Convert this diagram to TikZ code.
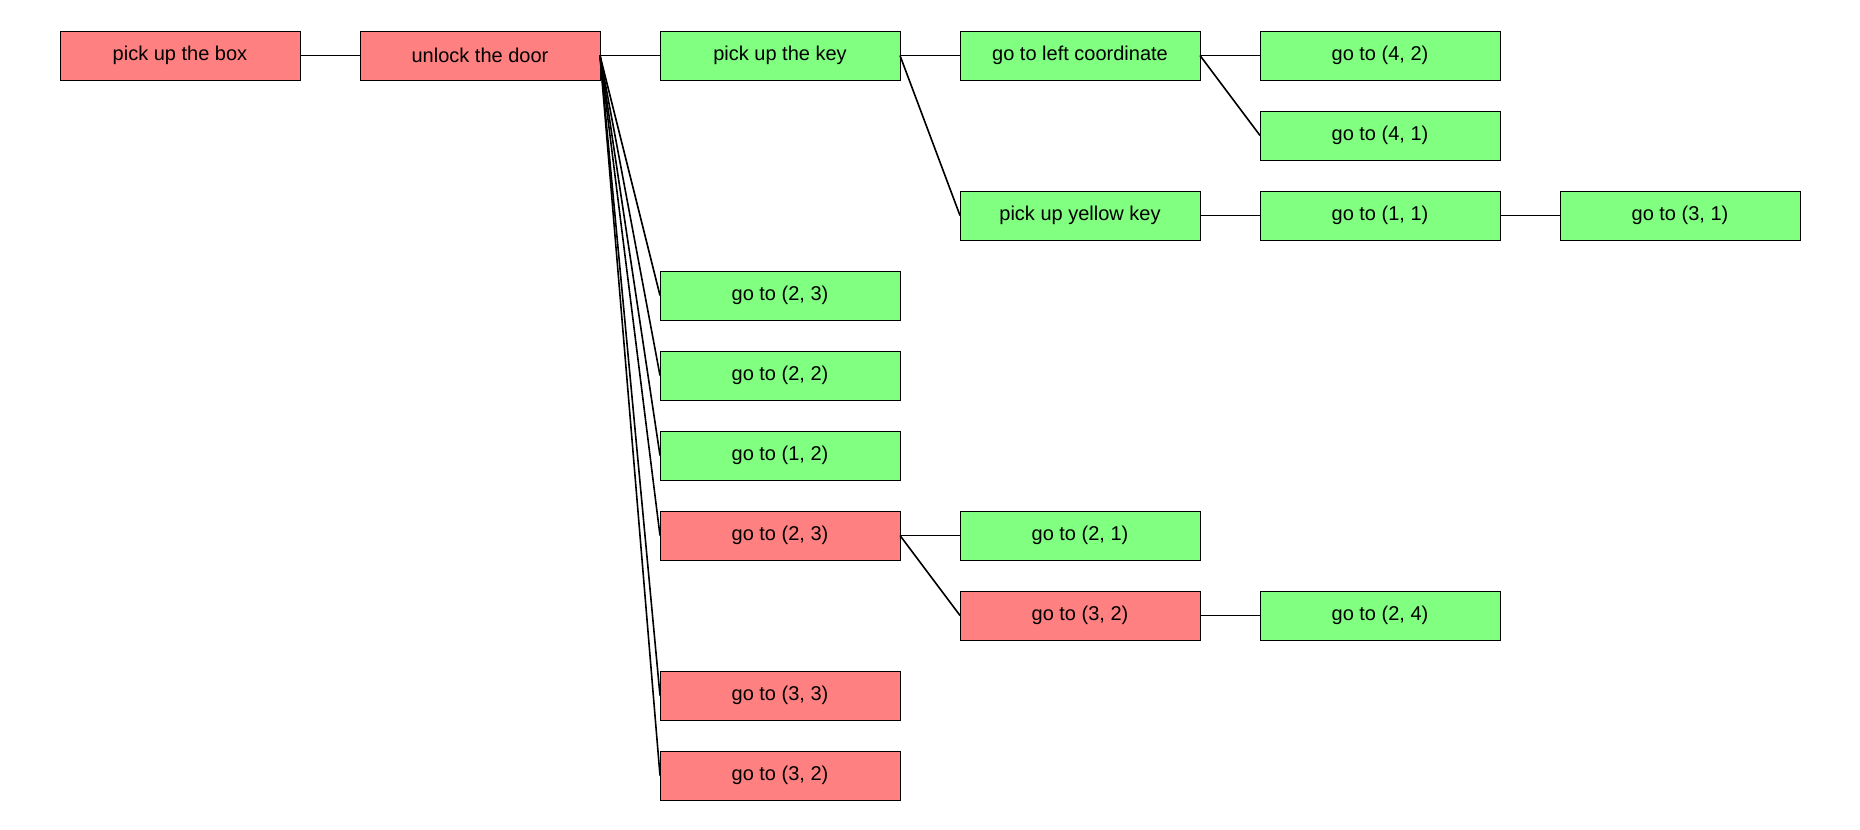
\documentclass[tikz,border=0pt]{standalone}
\usepackage{xcolor}
\usepackage{fontspec}
\setmainfont{Liberation Sans}
\usepackage{tikz}
\usetikzlibrary{positioning}

\definecolor{failred}{RGB}{255,128,128}
\definecolor{okgreen}{RGB}{128,255,128}

\begin{document}
\begin{tikzpicture}[
    node distance=15.5pt and 30pt,
    task/.style={draw, line width=0.5pt, rectangle,
        minimum width=120pt, minimum height=24.5pt,
        inner sep=0pt, outer sep=0pt,
        font=\fontsize{10}{12}\selectfont},
    failbox/.style={task, fill=failred},
    okbox/.style={task, fill=okgreen},
    treeedge/.style={line width=0.8pt, color=black}
]
\useasboundingbox (0,0) rectangle (930pt,-415pt);
% top row
\node[failbox, anchor=north west] (box) at (30pt,-15.5pt) {pick up the box};
\node[failbox, right=of box] (door) {unlock the door};
\node[okbox, right=of door] (key) {pick up the key};
\node[okbox, right=of key] (leftc) {go to left coordinate};
\node[okbox, right=of leftc] (g42) {go to (4, 2)};
\node[okbox, below=of g42] (g41) {go to (4, 1)};
\node[okbox, below=55.5pt of leftc] (yellow) {pick up yellow key};
\node[okbox, right=of yellow] (g11) {go to (1, 1)};
\node[okbox, right=of g11] (g31) {go to (3, 1)};
% children of the door
\node[okbox, below=95.5pt of key] (g23a) {go to (2, 3)};
\node[okbox, below=of g23a] (g22) {go to (2, 2)};
\node[okbox, below=of g22] (g12) {go to (1, 2)};
\node[failbox, below=of g12] (g23b) {go to (2, 3)};
\node[failbox, below=55.5pt of g23b] (g33) {go to (3, 3)};
\node[failbox, below=of g33] (g32a) {go to (3, 2)};
\node[okbox, right=of g23b] (g21) {go to (2, 1)};
\node[failbox, below=of g21] (g32b) {go to (3, 2)};
\node[okbox, right=of g32b] (g24) {go to (2, 4)};

\draw[treeedge] (box.east) -- (door.west);
\draw[treeedge] (door.east) -- (key.west);
\draw[treeedge] (door.east) -- (g23a.west);
\draw[treeedge] (door.east) -- (g22.west);
\draw[treeedge] (door.east) -- (g12.west);
\draw[treeedge] (door.east) -- (g23b.west);
\draw[treeedge] (door.east) -- (g33.west);
\draw[treeedge] (door.east) -- (g32a.west);
\draw[treeedge] (key.east) -- (leftc.west);
\draw[treeedge] (key.east) -- (yellow.west);
\draw[treeedge] (leftc.east) -- (g42.west);
\draw[treeedge] (leftc.east) -- (g41.west);
\draw[treeedge] (yellow.east) -- (g11.west);
\draw[treeedge] (g11.east) -- (g31.west);
\draw[treeedge] (g23b.east) -- (g21.west);
\draw[treeedge] (g23b.east) -- (g32b.west);
\draw[treeedge] (g32b.east) -- (g24.west);
\end{tikzpicture}
\end{document}
